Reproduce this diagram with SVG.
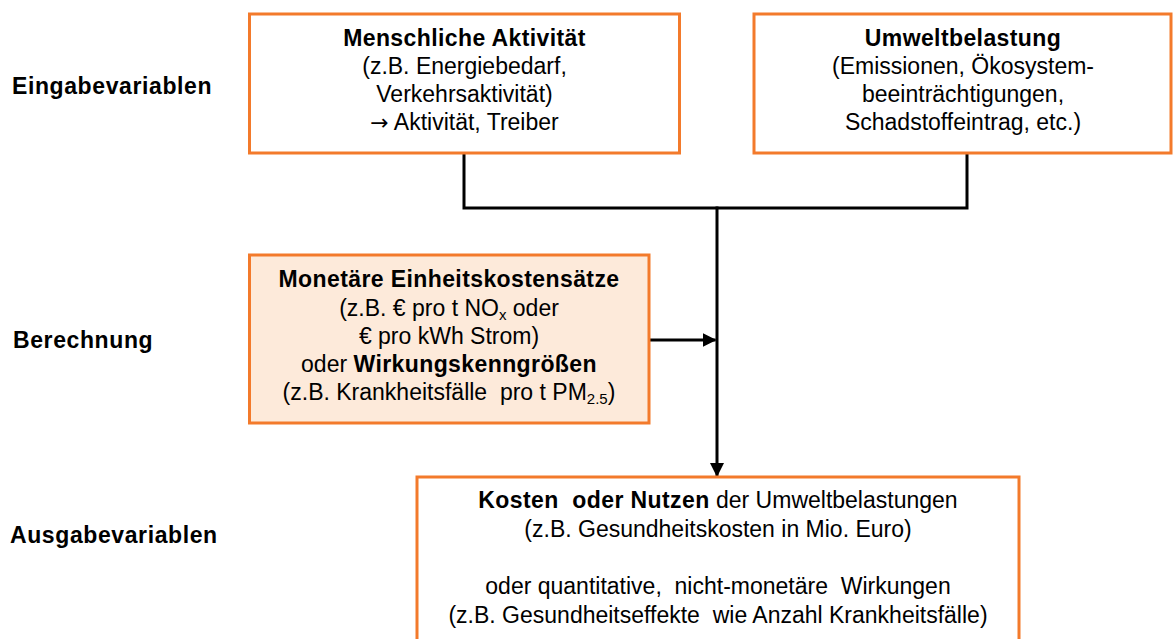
<svg xmlns="http://www.w3.org/2000/svg" width="1174" height="639" viewBox="0 0 1174 639">
  <style>
    text { font-family: "Liberation Sans", Arial, sans-serif; font-size: 23px; fill: #000; }
    .c { text-anchor: middle; }
    .b { font-weight: bold; letter-spacing: 0.4px; }
    .lbl { font-weight: bold; letter-spacing: 0.6px; }
    .arrow { font-family: "DejaVu Sans", sans-serif; font-size: 22px; }
    .box { fill: #ffffff; stroke: #F37A2B; stroke-width: 3; }
    .box.hl { fill: #FDEADA; }
    .wire { fill: none; stroke: #000; stroke-width: 3; }
    .sub { font-size: 15px; }
  </style>
  <defs>
    <marker id="head" markerUnits="userSpaceOnUse" markerWidth="14" markerHeight="14" refX="13" refY="7" orient="auto">
      <path d="M0,0 L14,7 L0,14 Z" fill="#000"/>
    </marker>
  </defs>

  <rect width="1174" height="639" fill="#ffffff"/>

  <!-- row labels -->
  <g id="row-labels">
    <text class="lbl" x="12" y="94">Eingabevariablen</text>
    <text class="lbl" x="13" y="348">Berechnung</text>
    <text class="lbl" x="10" y="543">Ausgabevariablen</text>
  </g>

  <!-- connectors -->
  <g id="connectors">
    <path class="wire" d="M464,153 V208 H967 V153"/>
    <path class="wire" d="M717,206.5 V476" marker-end="url(#head)"/>
    <path class="wire" d="M650,340 H715.5" marker-end="url(#head)"/>
  </g>

  <g id="node-aktivitaet">
    <rect class="box" x="249.5" y="14" width="430" height="139"/>
    <text class="c b" x="464.5" y="46">Menschliche Aktivität</text>
    <text class="c" x="464.5" y="74">(z.B. Energiebedarf,</text>
    <text class="c" x="464.5" y="102">Verkehrsaktivität)</text>
    <text class="c" x="464.5" y="130"><tspan class="arrow">→</tspan> Aktivität, Treiber</text>
  </g>

  <g id="node-umweltbelastung">
    <rect class="box" x="754" y="14" width="417" height="139"/>
    <text class="c b" x="963" y="46">Umweltbelastung</text>
    <text class="c" x="963" y="74">(Emissionen, Ökosystem-</text>
    <text class="c" x="963" y="102">beeinträchtigungen,</text>
    <text class="c" x="963" y="130">Schadstoffeintrag, etc.)</text>
  </g>

  <g id="node-kostensaetze">
    <rect class="box hl" x="249.5" y="255" width="399.5" height="168"/>
    <text class="c b" x="449" y="287">Monetäre Einheitskostensätze</text>
    <text class="c" x="449" y="316">(z.B. € pro t NO<tspan class="sub" dy="4">x</tspan><tspan dy="-4"> oder</tspan></text>
    <text class="c" x="449" y="344">€ pro kWh Strom)</text>
    <text class="c" x="449" y="372">oder <tspan class="b">Wirkungskenngrößen</tspan></text>
    <text class="c" x="449" y="400">(z.B. Krankheitsfälle&#160; pro t PM<tspan class="sub" dy="4">2.5</tspan><tspan dy="-4">)</tspan></text>
  </g>

  <g id="node-ergebnis">
    <rect class="box" x="417" y="477" width="602" height="190"/>
    <text class="c" x="718" y="508"><tspan class="b">Kosten&#160; oder Nutzen</tspan> der Umweltbelastungen</text>
    <text class="c" x="718" y="537">(z.B. Gesundheitskosten in Mio. Euro)</text>
    <text class="c" x="718" y="594">oder quantitative,&#160; nicht-monetäre&#160; Wirkungen</text>
    <text class="c" x="718" y="623">(z.B. Gesundheitseffekte&#160; wie Anzahl Krankheitsfälle)</text>
  </g>
</svg>
